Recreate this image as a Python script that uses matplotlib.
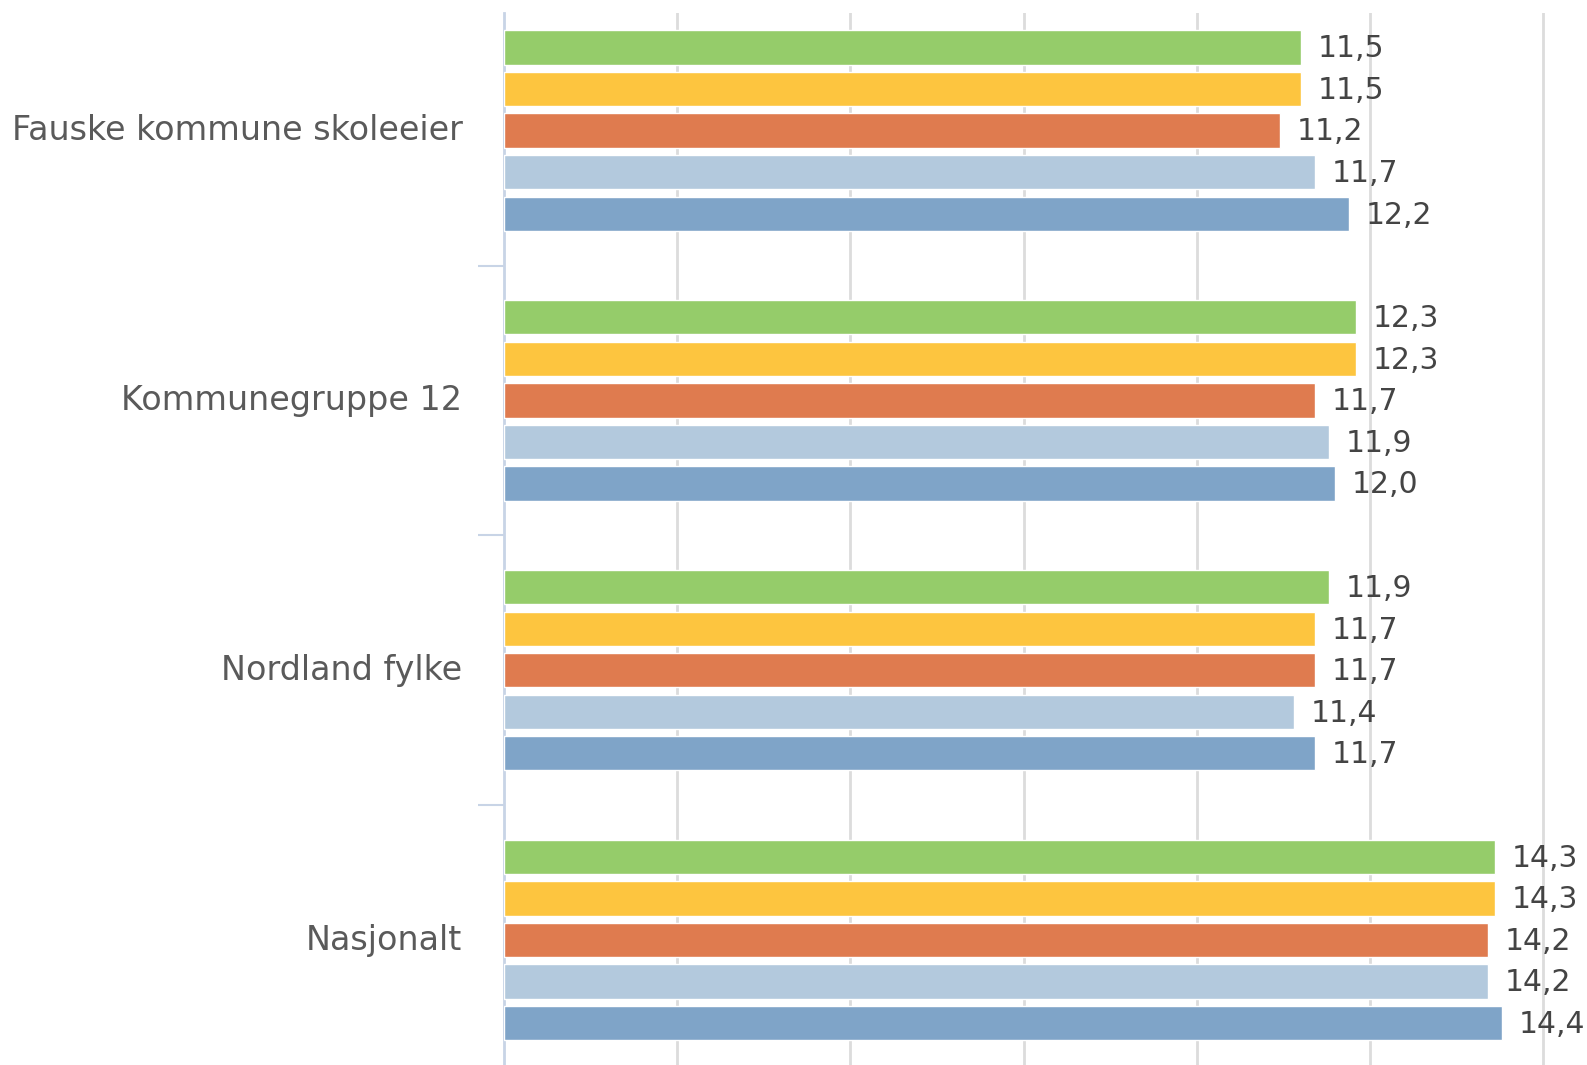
import numpy as np
import matplotlib.pyplot as plt

# categories and values (top to bottom)
categories = ["Fauske kommune skoleeier", "Kommunegruppe 12", "Nordland fylke", "Nasjonalt"]
series_names = ["Serie 1", "Serie 2", "Serie 3", "Serie 4", "Serie 5"]
values = [
    [11.5, 12.3, 11.9, 14.3],
    [11.5, 12.3, 11.7, 14.3],
    [11.2, 11.7, 11.7, 14.2],
    [11.7, 11.9, 11.4, 14.2],
    [12.2, 12.0, 11.7, 14.4],
]
colors = ["#95cc6a", "#fdc53f", "#df7b4f", "#b3c9dd", "#7fa4c8"]

fig = plt.figure(figsize=(15.87, 10.65), dpi=100)
ax = fig.add_axes([504 / 1587, 0, 1 - 504 / 1587, 1 - 13 / 1065])

y = np.arange(len(categories))
step = 0.154
bar_h = 0.127
for i, (name, vals, col) in enumerate(zip(series_names, values, colors)):
    pos = y + (i - 2) * step
    bars = ax.barh(pos, vals, height=bar_h, color=col, edgecolor="white",
                   linewidth=1.0, label=name, zorder=3)
    for b, v in zip(bars, vals):
        ax.annotate(f"{v:.1f}".replace(".", ","),
                    xy=(v, b.get_y() + b.get_height() / 2),
                    xytext=(12, -1), textcoords="offset points",
                    va="center", ha="left", fontsize=21.5, color="#444444")

ax.set_xlim(0, 15.63)
ax.set_ylim((1065 - 130.6) / 269.8, (13 - 130.6) / 269.8)

# vertical gridlines
ax.set_xticks(np.arange(2.5, 15.1, 2.5))
ax.grid(axis="x", color="#dcdcdc", linewidth=2, zorder=0)
ax.tick_params(axis="x", length=0, labelbottom=False)

# category separators as ticks
ax.set_yticks([0.5, 1.5, 2.5])
ax.tick_params(axis="y", length=19, width=1.5, color="#c8d4e6", labelleft=False)

for s in ["top", "right", "bottom"]:
    ax.spines[s].set_visible(False)
ax.spines["left"].set_color("#c8d4e6")
ax.spines["left"].set_linewidth(2)

for yi, cat in zip(y, categories):
    ax.text(-0.6, yi, cat, ha="right", va="center", fontsize=24, color="#5a5a5a")

fig.savefig("out.png", dpi=100)
